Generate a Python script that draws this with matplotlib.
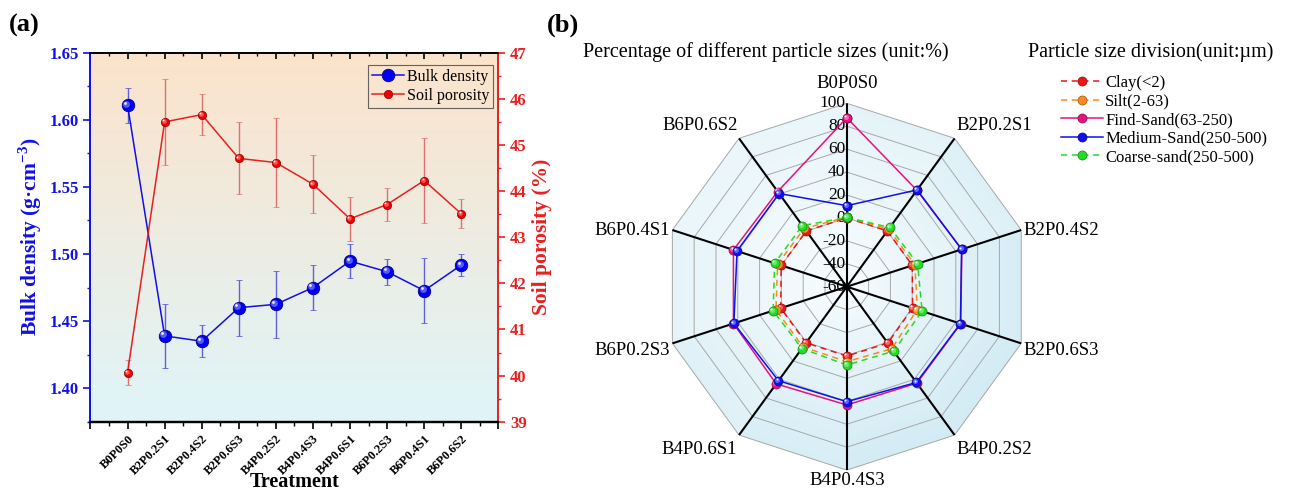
import numpy as np
import matplotlib
matplotlib.use('Agg')
import matplotlib.pyplot as plt
from matplotlib.ticker import MultipleLocator, FixedLocator, NullFormatter
import matplotlib.transforms as mtransforms
from matplotlib.colors import to_rgb

plt.rcParams['font.family'] = ['Liberation Serif', 'DejaVu Serif']
plt.rcParams['mathtext.fontset'] = 'custom'
plt.rcParams['mathtext.rm'] = 'Liberation Serif'
plt.rcParams['mathtext.bf'] = 'Liberation Serif:bold'

# ---------------- data ----------------
treatments = ['B0P0S0', 'B2P0.2S1', 'B2P0.4S2', 'B2P0.6S3', 'B4P0.2S2',
              'B4P0.4S3', 'B4P0.6S1', 'B6P0.2S3', 'B6P0.4S1', 'B6P0.6S2']

bulk_density = [1.611, 1.439, 1.435, 1.460, 1.4625, 1.475, 1.4947, 1.4868, 1.4727, 1.4918]
bulk_err = [0.013, 0.024, 0.012, 0.021, 0.025, 0.017, 0.0125, 0.0098, 0.024, 0.0085]
porosity = [40.06, 45.50, 45.66, 44.71, 44.62, 44.15, 43.40, 43.71, 44.23, 43.51]
porosity_err = [0.27, 0.93, 0.45, 0.78, 0.96, 0.63, 0.48, 0.36, 0.92, 0.32]
bulk_ticks = [1.40, 1.45, 1.50, 1.55, 1.60, 1.65]
porosity_ticks = [39, 40, 41, 42, 43, 44, 45, 46, 47]

radar_ticks = [-60, -40, -20, 0, 20, 40, 60, 80, 100]
clay = [0.1, 0.2, 0.1, 0.3, 0.8, 0.5, 0.5, 0.6, 0.2, 0.1]
silt = [0.6, 2.0, 2.5, 4.6, 6.8, 5.4, 5.0, 5.0, 3.5, 3.0]
fine_sand = [87.4, 44.0, 45.5, 44.5, 44.0, 43.2, 44.8, 44.0, 44.0, 42.6]
medium_sand = [10.7, 44.4, 45.3, 44.2, 43.3, 40.3, 41.4, 43.6, 40.7, 40.5]
coarse_sand = [0.4, 3.9, 4.9, 9.1, 9.5, 8.3, 6.7, 7.6, 6.2, 5.9]
series_names = ['Clay(<2)', 'Silt(2-63)', 'Find-Sand(63-250)',
                'Medium-Sand(250-500)', 'Coarse-sand(250-500)']

fig = plt.figure(figsize=(13.09, 4.91), dpi=100)


def lighten(c, f):
    c = np.array(to_rgb(c))
    return tuple(c + (1 - c) * f)


def glossy(ax, x, y, color, ms, zorder):
    tr1 = mtransforms.offset_copy(ax.transData, fig=fig, x=-ms * 0.12, y=ms * 0.12, units='points')
    ax.plot(x, y, ls='none', marker='o', ms=ms * 0.55, mfc=lighten(color, 0.35),
            mec='none', transform=tr1, zorder=zorder, clip_on=False)
    tr2 = mtransforms.offset_copy(ax.transData, fig=fig, x=-ms * 0.2, y=ms * 0.2, units='points')
    ax.plot(x, y, ls='none', marker='o', ms=ms * 0.22, mfc='white', alpha=0.9,
            mec='none', transform=tr2, zorder=zorder, clip_on=False)


# ---------------- panel (a) ----------------
ax = fig.add_axes([0.0691, 0.1411, 0.3116, 0.7514])
x = np.arange(len(treatments))

top_c = np.array(to_rgb('#FCE3CB'))
bot_c = np.array(to_rgb('#DFF5F9'))
t = np.linspace(0, 1, 256)[:, None]
grad = (top_c[None, :] * (1 - t) + bot_c[None, :] * t)[:, None, :]
ax.imshow(grad, extent=[0, 1, 0, 1], transform=ax.transAxes, aspect='auto', zorder=0)

blue = '#1010E8'
red = '#E82020'
eb1 = ax.errorbar(x, bulk_density, yerr=bulk_err, color=blue, lw=1.1, ecolor='#6060D8',
                  elinewidth=1.0, capsize=2.5, capthick=1.0, marker='o', ms=9,
                  mfc='#0000F0', mec='#000090', mew=0.6, zorder=3)
glossy(ax, x, bulk_density, '#0000F0', 9, 4)
ax.set_xlim(-1, 10)
ax.set_ylim(1.375, 1.65)

ax2 = ax.twinx()
eb2 = ax2.errorbar(x, porosity, yerr=porosity_err, color=red, lw=1.1, ecolor='#E07070',
                   elinewidth=1.0, capsize=2.5, capthick=1.0, marker='o', ms=6,
                   mfc='#F00000', mec='#900000', mew=0.5, zorder=3)
glossy(ax2, x, porosity, '#F00000', 6, 4)
ax2.set_ylim(39, 47)
ax2.set_xlim(-1, 10)

# x axis
ax.set_xticks(list(range(-1, 11)))
ax.set_xticklabels([''] + treatments + [''], rotation=45, ha='right',
                   rotation_mode='anchor', fontweight='bold', fontsize=9)
ax.xaxis.set_minor_locator(MultipleLocator(0.5))
ax.tick_params(axis='x', which='major', direction='out', length=5, width=1.2, pad=3)
ax.tick_params(axis='x', which='minor', direction='out', length=3, width=1.0)
ax.set_xlabel('Treatment', fontsize=14.5, fontweight='bold', labelpad=-4)

sec = ax.secondary_xaxis('top')
sec.xaxis.set_major_locator(FixedLocator(list(range(-1, 11))))
sec.xaxis.set_minor_locator(MultipleLocator(0.5))
sec.xaxis.set_major_formatter(NullFormatter())
sec.tick_params(axis='x', which='major', direction='in', length=4.5, width=1.2)
sec.tick_params(axis='x', which='minor', direction='in', length=2.5, width=1.0)
sec.spines['top'].set_linewidth(1.2)

# left y
ax.set_yticks(bulk_ticks)
ax.set_yticklabels(['%.2f' % v for v in bulk_ticks], fontweight='bold', fontsize=12)
ax.yaxis.set_minor_locator(MultipleLocator(0.025))
ax.tick_params(axis='y', which='major', colors=blue, length=5, width=1.2)
ax.tick_params(axis='y', which='minor', colors=blue, length=2.5, width=1.0)
ax.set_ylabel('Bulk density (g·cm$^{\\mathbf{-3}}$)', color=blue, fontsize=15.5,
              fontweight='bold', labelpad=4)

# right y
ax2.set_yticks(porosity_ticks)
ax2.set_yticklabels([str(v) for v in porosity_ticks], fontweight='bold', fontsize=12)
ax2.yaxis.set_minor_locator(MultipleLocator(0.5))
ax2.tick_params(axis='y', which='major', colors=red, length=5, width=1.2)
ax2.tick_params(axis='y', which='minor', colors=red, length=2.5, width=1.0)
ax2.set_ylabel('Soil porosity (%)', color=red, fontsize=15.5, fontweight='bold', labelpad=4)

for a in (ax, ax2):
    a.spines['left'].set_color(blue)
    a.spines['right'].set_color(red)
    a.spines['left'].set_linewidth(1.2)
    a.spines['right'].set_linewidth(1.2)
    a.spines['bottom'].set_linewidth(1.6)
    a.spines['top'].set_linewidth(1.2)

leg = ax2.legend([eb1[0], eb2[0]], ['Bulk density', 'Soil porosity'], loc='upper right',
                 bbox_to_anchor=(0.988, 0.968), fontsize=11.5, frameon=True, fancybox=False,
                 handlelength=2.0, handletextpad=0.2, borderpad=0.25, labelspacing=0.2,
                 borderaxespad=0)
leg.get_frame().set_edgecolor('#404040')
leg.get_frame().set_facecolor('none')
leg.get_frame().set_linewidth(0.8)

fig.text(9 / 1309, 1 - 25 / 491, '(a)', fontsize=19, fontweight='bold', va='center', ha='left')
fig.text(547 / 1309, 1 - 25 / 491, '(b)', fontsize=19, fontweight='bold', va='center', ha='left')

# ---------------- panel (b) radar ----------------
axr = fig.add_axes([0.50680, 0.04256, 0.28022, 0.74705], projection='polar')
axr.set_theta_offset(np.pi / 2)
axr.set_theta_direction(-1)
rmin, rmax = radar_ticks[0], radar_ticks[-1]
axr.set_ylim(rmin, rmax)
axr.axis('off')

n = len(treatments)
theta = np.linspace(0, 2 * np.pi, n, endpoint=False)
theta_c = np.append(theta, theta[0])
step = 2 * np.pi / n

inner = np.array(to_rgb('#FAFDFE'))
outer = np.array(to_rgb('#D2EBF4'))
nr = 32
edges = np.linspace(rmin, rmax, nr + 1)
for k in range(n):
    t0 = theta[k]
    t1 = t0 + step
    amid = t0 + step / 2
    light = 0.5 * (1 + np.cos(amid - 5.6))
    for j in range(nr):
        e0, e1 = edges[j], edges[j + 1]
        frac = (0.5 * (e0 + e1) - rmin) / (rmax - rmin)
        b = frac ** 0.7 * (1 - 0.6 * light)
        c = tuple(inner + (outer - inner) * b)
        axr.fill([t0, t1, t1, t0], [e0, e0, e1, e1], color=c, ec=c, lw=0.4, zorder=0)

for r in radar_ticks[1:]:
    axr.plot(theta_c, [r] * (n + 1), color='#A8A8A8', lw=0.7, zorder=1)
for tk in theta:
    axr.plot([tk, tk], [rmin, rmax], color='black', lw=1.5, zorder=2)
axr.plot([0], [rmin], 'o', color='black', ms=3.5, zorder=2)

for r in radar_ticks:
    axr.annotate(str(r), xy=(0, r), xytext=(-1.0, 0), textcoords='offset points',
                 ha='right', va='center', fontsize=12.5, zorder=3, annotation_clip=False)

for tk, lab in zip(theta, treatments):
    s, c = np.sin(tk), np.cos(tk)
    ha = 'left' if s > 0.1 else ('right' if s < -0.1 else 'center')
    if c > 0.9:
        va, dy = 'bottom', 8
    elif c > 0.5:
        va, dy = 'bottom', 3
    elif c > 0:
        va, dy = 'center', 0
    elif c > -0.5:
        va, dy = 'center', -5
    elif c > -0.9:
        va, dy = 'top', -4
    else:
        va, dy = 'top', -1.5
    dx = 2 * s
    axr.annotate(lab, xy=(tk, rmax), xytext=(dx, dy), textcoords='offset points',
                 ha=ha, va=va, fontsize=13.5, annotation_clip=False)

series = [clay, silt, fine_sand, medium_sand, coarse_sand]
colors = ['#EE1515', '#FF8A1A', '#E8127F', '#1010EE', '#22DD22']
styles = [(0, (4, 3)), (0, (4, 3)), '-', '-', (0, (4, 3))]
handles = []
for vals, col, ls, name in zip(series, colors, styles, series_names):
    v = np.append(vals, vals[0])
    h, = axr.plot(theta_c, v, ls=ls, color=col, lw=1.1, marker='o', ms=6.5,
                  mfc=col, mec=tuple(np.array(to_rgb(col)) * 0.6), mew=0.5,
                  zorder=4, clip_on=False)
    glossy(axr, theta, vals, col, 6.5, 4)
    handles.append(h)

fig.text(583 / 1309, 1 - 51.7 / 491, 'Percentage of different particle sizes (unit:%)',
         fontsize=14.5, ha='left', va='center')
fig.text(1028 / 1309, 1 - 51.7 / 491, 'Particle size division(unit:µm)',
         fontsize=14.5, ha='left', va='center')
fig.legend(handles, series_names, loc='upper left', bbox_to_anchor=(1061 / 1309, 1 - 75 / 491),
           frameon=False, fontsize=12, handlelength=2.5, handletextpad=0.15,
           labelspacing=0.15, borderpad=0, borderaxespad=0)

fig.savefig('out.png', dpi=100)
